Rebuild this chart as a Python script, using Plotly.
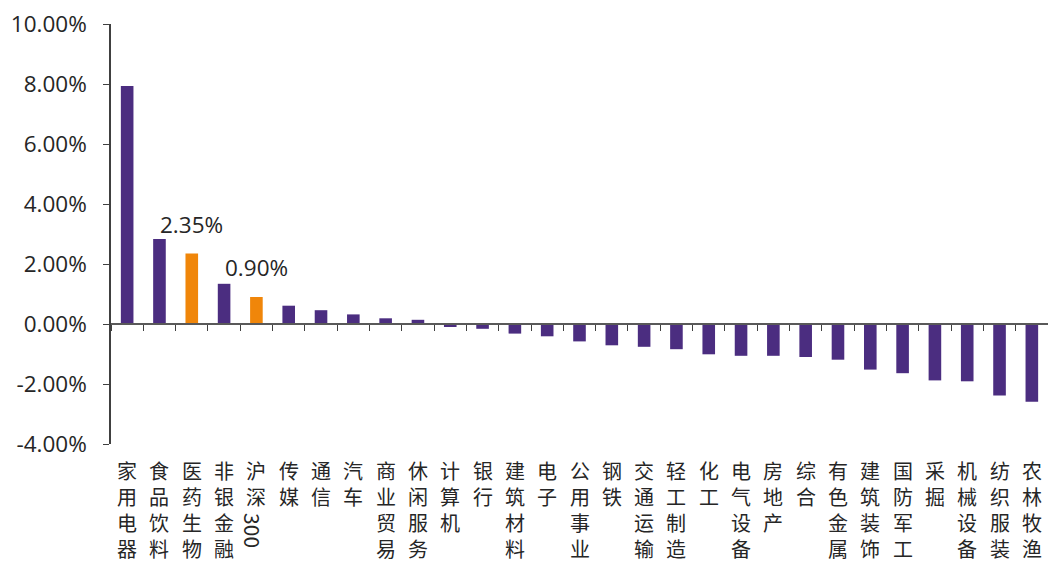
import plotly.graph_objects as go

categories = ["家用电器", "食品饮料", "医药生物", "非银金融", "沪深300", "传媒", "通信", "汽车",
              "商业贸易", "休闲服务", "计算机", "银行", "建筑材料", "电子", "公用事业", "钢铁",
              "交通运输", "轻工制造", "化工", "电气设备", "房地产", "综合", "有色金属", "建筑装饰",
              "国防军工", "采掘", "机械设备", "纺织服装", "农林牧渔"]
values = [7.93, 2.83, 2.35, 1.34, 0.90, 0.61, 0.46, 0.32, 0.19, 0.14,
          -0.10, -0.16, -0.32, -0.41, -0.58, -0.71, -0.76, -0.84, -1.01, -1.06,
          -1.06, -1.10, -1.19, -1.52, -1.64, -1.88, -1.91, -2.38, -2.59]
highlight = ["医药生物", "沪深300"]
labelled = {"医药生物": "2.35%", "沪深300": "0.90%"}
y_ticks = [-4, -2, 0, 2, 4, 6, 8, 10]

PURPLE = "#4B2D80"
ORANGE = "#F0860A"
TEXT = "#262626"
CJK = dict(family="Noto Sans CJK SC", size=20, color=TEXT)

colors = [ORANGE if c in highlight else PURPLE for c in categories]

fig = go.Figure()
fig.add_trace(go.Bar(x=categories, y=values, marker=dict(color=colors, line=dict(width=0)),
                     hoverinfo="skip"))

ymin, ymax = -4, 10
zero_pos = (0 - ymin) / (ymax - ymin)

annotations = []
for c in categories:
    if c == "沪深300":
        annotations.append(dict(x=c, xref="x", y=0, yref="paper", yanchor="top", yshift=-10,
                                text="沪<br>深", showarrow=False, font=CJK))
        annotations.append(dict(x=c, xref="x", y=0, yref="paper", yanchor="top", yshift=-67,
                                xshift=-3, text="300", textangle=90, showarrow=False,
                                font=dict(family="Noto Sans CJK SC", size=21, color=TEXT)))
    else:
        annotations.append(dict(x=c, xref="x", y=0, yref="paper", yanchor="top", yshift=-10,
                                text="<br>".join(list(c)), showarrow=False, font=CJK))

for c, t in labelled.items():
    v = values[categories.index(c)]
    annotations.append(dict(x=c, xref="x", y=v, yref="y", yanchor="bottom", yshift=12,
                            text=t, showarrow=False,
                            font=dict(family="Open Sans", size=22.5, color=TEXT)))

fig.update_layout(
    width=1048, height=566,
    margin=dict(l=111, r=0, t=24, b=122),
    paper_bgcolor="white", plot_bgcolor="white",
    showlegend=False,
    bargap=0.61,
    annotations=annotations,
    xaxis=dict(type="category", anchor="free", position=zero_pos, showline=True,
               linecolor="#595959", linewidth=1.5, ticks="outside", tickson="boundaries",
               ticklen=6, tickcolor="#404040", tickwidth=1, showticklabels=False,
               showgrid=False, zeroline=False, range=[-0.5, len(categories) - 0.5]),
    yaxis=dict(range=[ymin, ymax], tickvals=y_ticks,
               ticktext=[f"{v:.2f}%" for v in y_ticks],
               showline=True, linecolor="#404040", linewidth=1.5, ticks="outside",
               ticklen=6, tickcolor="#404040", showgrid=False, zeroline=False,
               ticklabelstandoff=12,
               tickfont=dict(family="Open Sans", size=22.5, color=TEXT)),
)

fig.write_html("out.html")
